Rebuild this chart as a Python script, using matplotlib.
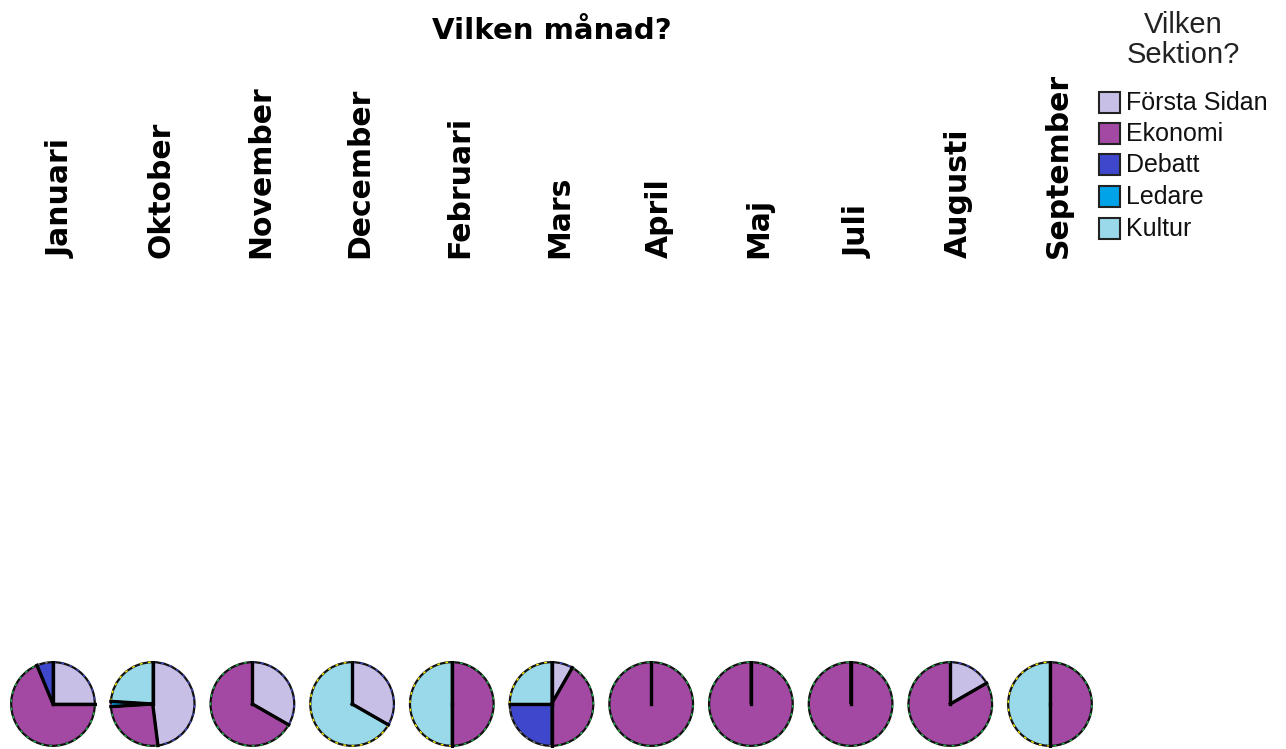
import numpy as np
import matplotlib.pyplot as plt
from matplotlib.patches import Rectangle

months = ["Januari", "Oktober", "November", "December", "Februari", "Mars",
          "April", "Maj", "Juli", "Augusti", "September"]
sections = ["Första Sidan", "Ekonomi", "Debatt", "Ledare", "Kultur"]

# share of each section per month (pie order: clockwise from 12 o'clock)
forsta_sidan = [25, 48, 33.3, 33.3, 0, 8.3, 0, 0, 0, 16.7, 0]
ekonomi = [68.75, 26, 66.7, 0, 50, 41.7, 100, 100, 100, 83.3, 50]
debatt = [6.25, 0, 0, 0, 0, 25, 0, 0, 0, 0, 0]
ledare = [0, 2, 0, 0, 0, 0, 0, 0, 0, 0, 0]
kultur = [0, 24, 0, 66.7, 50, 25, 0, 0, 0, 0, 50]

colors = ["#c8bfe7", "#a349a4", "#3f48cc", "#00a2e8", "#99d9ea"]
accents = ["#3f48cc", "#22b14c", "#7f7f7f", "#a349a4", "#fff200"]

W, H = 1286, 749
fig = plt.figure(figsize=(W / 100, H / 100), dpi=100)


def fx(px):
    return px / W


def fy(py):
    return 1 - py / H


fig.text(fx(552), fy(31), "Vilken månad?", ha="center", va="center",
         fontsize=21, fontweight="bold", family="DejaVu Sans")

table = np.array([forsta_sidan, ekonomi, debatt, ledare, kultur]).T
r = 43.5
for i, (month, vals) in enumerate(zip(months, table)):
    cx = 53 + 99.7 * i
    cy = 704
    fig.text(fx(cx + 8), fy(258), month, rotation=90, ha="center", va="bottom",
             fontsize=21.5, fontweight="bold", family="DejaVu Sans")
    ax = fig.add_axes([fx(cx - r), fy(cy + r), 2 * r / W, 2 * r / H])
    ax.pie(vals, colors=colors, startangle=90, counterclock=False,
           wedgeprops=dict(edgecolor="#111111", linewidth=1.6))
    # dashed accent rim and radial separators
    fr = vals / vals.sum()
    start = 0.0
    for k, f in enumerate(fr):
        if f <= 0:
            continue
        th = np.radians(90 - 360 * np.linspace(start, start + f, 80))
        ax.plot(np.cos(th), np.sin(th), color=accents[k], lw=1.0,
                ls=(0, (2, 4)))
        a0 = np.radians(90 - 360 * start)
        ax.plot([0, np.cos(a0)], [0, np.sin(a0)], color="black", lw=2.4)
        start += f
    ax.set_xlim(-1.04, 1.04)
    ax.set_ylim(-1.04, 1.04)
    ax.set_aspect("equal")
    ax.axis("off")

# legend
fig.text(fx(1183), fy(40), "Vilken\nSektion?", ha="center", va="center",
         fontsize=21, family="Liberation Sans", linespacing=1.05,
         color="#222222")
rows = [102, 133, 164, 196, 228]
for name, c, y in zip(sections, colors, rows):
    fig.patches.append(Rectangle((fx(1099), fy(y + 11)), 21 / W, 21 / H,
                                 transform=fig.transFigure, facecolor=c,
                                 edgecolor="#222222", lw=1.5))
    fig.text(fx(1126), fy(y + 1), name, ha="left", va="center",
             fontsize=18, family="Liberation Sans", color="#111111")

fig.savefig("out.png", dpi=100)
